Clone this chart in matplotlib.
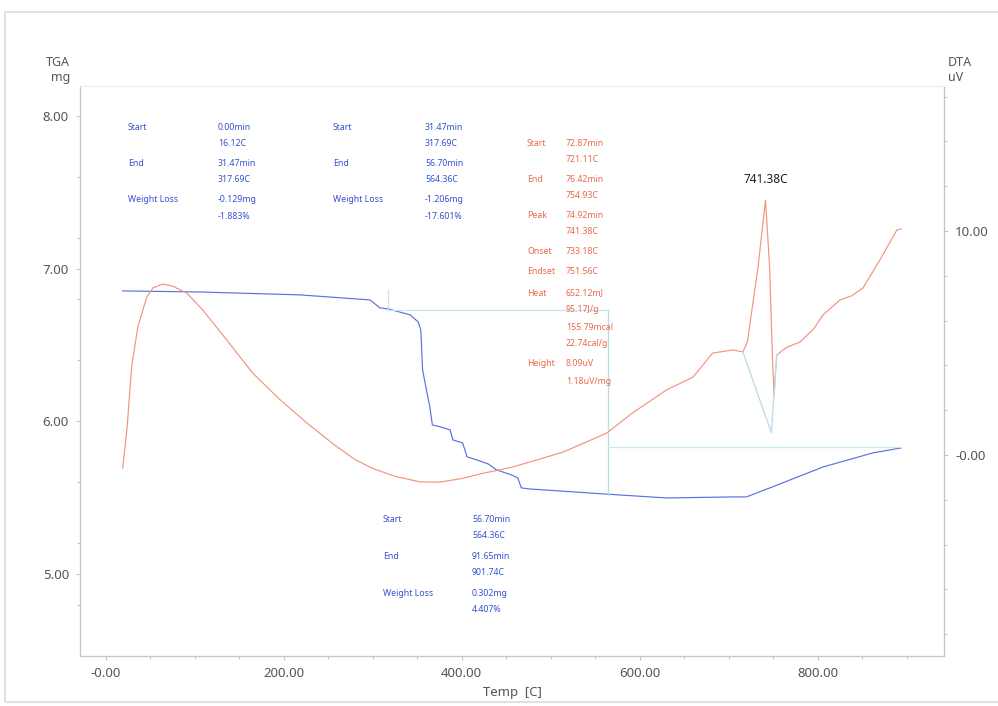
import numpy as np
import matplotlib
matplotlib.use('Agg')
import matplotlib.pyplot as plt
from matplotlib.patches import Rectangle
from matplotlib.ticker import MultipleLocator, FuncFormatter

plt.rcParams['font.family'] = ['Noto Sans', 'DejaVu Sans']

# TGA curve (temp C, mg)
tga_t = [19, 106, 218, 297, 308, 318, 342, 351, 354, 356, 361, 364, 367, 375, 387, 390,
         401, 406, 417, 430, 439, 456, 463, 467, 476, 520, 558, 630, 707, 720, 749, 806, 862, 894]
tga_w = [6.854, 6.847, 6.828, 6.795, 6.743, 6.735, 6.697, 6.651, 6.599, 6.337, 6.186, 6.10, 5.976,
         5.965, 5.944, 5.878, 5.859, 5.767, 5.747, 5.72, 5.682, 5.649, 5.629, 5.564, 5.557, 5.54,
         5.525, 5.498, 5.505, 5.505, 5.570, 5.701, 5.793, 5.826]

# DTA curve (temp C, uV)
dta_t = [19, 24, 29, 36, 46, 53, 64, 75, 91, 109, 136, 165, 196, 226, 257, 280, 300, 325, 353,
         375, 400, 420, 457, 514, 563, 592, 630, 660, 682, 705, 716, 721, 733, 741.4, 746, 749,
         751, 754, 765, 780, 795, 806, 825, 838, 851, 870, 889, 894]
dta_v = [-0.58, 1.25, 3.93, 5.71, 7.05, 7.46, 7.63, 7.54, 7.23, 6.47, 5.13, 3.66, 2.46, 1.43, 0.45,
         -0.2, -0.6, -0.95, -1.2, -1.21, -1.05, -0.85, -0.54, 0.13, 0.98, 1.88, 2.90, 3.48, 4.55,
         4.69, 4.60, 5.04, 8.39, 11.38, 8.39, 4.6, 2.68, 4.46, 4.80, 5.04, 5.60, 6.25, 6.92, 7.10,
         7.46, 8.71, 10.04, 10.09]

# step markers
tga_steps = [317.69, 564.36, 894]
tga_levels = [6.86, 6.73, 5.52, 5.83]

fig = plt.figure(figsize=(9.98, 7.06), dpi=100)
fig.patches.append(Rectangle((5 / 998, 4 / 706), 1.1, 690 / 706, transform=fig.transFigure,
                             fill=False, edgecolor='#dcdcdc', lw=1.2))
ax = fig.add_axes([80 / 998, 50 / 706, 864 / 998, 570 / 706])
ax2 = ax.twinx()

ax.plot(tga_t, tga_w, color='#5d70e0', lw=0.85)
ax2.plot(dta_t, dta_v, color='#f29380', lw=0.85)

mk = '#c8e6ee'
ax.plot([tga_steps[0], tga_steps[0]], [tga_levels[0], tga_levels[1]], color=mk, lw=0.9)
ax.plot([tga_steps[0], tga_steps[1]], [tga_levels[1], tga_levels[1]], color=mk, lw=0.9)
ax.plot([tga_steps[1], tga_steps[1]], [tga_levels[1], tga_levels[2]], color='#b8dce6', lw=0.9)
ax.plot([tga_steps[1], tga_steps[2]], [tga_levels[3], tga_levels[3]], color=mk, lw=0.9)
ax2.plot([716, 748, 754], [4.60, 1.0, 4.46], color='#b8dce6', lw=0.9)

ax.set_xlim(-29, 942)
ax.set_ylim(4.463, 8.196)
ax2.set_ylim(-8.97, 16.47)

ax.xaxis.set_major_locator(MultipleLocator(200))
ax.xaxis.set_minor_locator(MultipleLocator(50))
ax.yaxis.set_major_locator(MultipleLocator(1))
ax.yaxis.set_minor_locator(MultipleLocator(0.4))
ax2.yaxis.set_major_locator(MultipleLocator(10))
ax2.yaxis.set_minor_locator(MultipleLocator(2))

fmt = FuncFormatter(lambda v, p: '-0.00' if abs(v) < 1e-9 else '%.2f' % v)
ax.xaxis.set_major_formatter(fmt)
ax.yaxis.set_major_formatter(FuncFormatter(lambda v, p: '%.2f' % v))
ax2.yaxis.set_major_formatter(fmt)

for a in (ax, ax2):
    for s in a.spines.values():
        s.set_color('#c4c4c4')
    a.spines['top'].set_color('#eeeeee')
    a.tick_params(which='both', colors='#c4c4c4', labelcolor='#555555', labelsize=9.5,
                  length=3, width=0.8, pad=5)
    a.tick_params(which='minor', length=2)

ax.set_xlabel('Temp  [C]', fontsize=9.5, color='#555555', labelpad=4)
fig.text(70 / 998, 1 - 70 / 706, 'TGA\nmg', ha='right', va='center', fontsize=9,
         color='#555555', linespacing=1.2)
fig.text(948 / 998, 1 - 70 / 706, 'DTA\nuV', ha='left', va='center', fontsize=9,
         color='#555555', linespacing=1.2)


def put(x, y, s, c):
    fig.text(x / 998, 1 - y / 706, s, ha='left', va='center', fontsize=6.3, color=c)


blue = '#3550d0'
red = '#e86a4c'

# TGA step tables
blk1 = [('Start', ['0.00min', '16.12C']), ('End', ['31.47min', '317.69C']),
        ('Weight Loss', ['-0.129mg', '-1.883%'])]
blk2 = [('Start', ['31.47min', '317.69C']), ('End', ['56.70min', '564.36C']),
        ('Weight Loss', ['-1.206mg', '-17.601%'])]
blk3 = [('Start', ['56.70min', '564.36C']), ('End', ['91.65min', '901.74C']),
        ('Weight Loss', ['0.302mg', '4.407%'])]
for (bx, vx, by), blk in [((128, 218, 127), blk1), ((333, 425, 127), blk2), ((383, 472, 520), blk3)]:
    for i, (lab, vals) in enumerate(blk):
        y = by + i * 36.5
        put(bx, y, lab, blue)
        for j, v in enumerate(vals):
            put(vx, y + j * 16, v, blue)

# DTA peak table
dta_lab = ['Start', 'End', 'Peak', 'Onset', 'Endset', 'Heat', 'Height']
dta_vals = [['72.87min', '721.11C'], ['76.42min', '754.93C'], ['74.92min', '741.38C'],
            ['733.18C'], ['751.56C'], ['652.12mJ', '95.17J/g', '155.79mcal', '22.74cal/g'],
            ['8.09uV', '1.18uV/mg']]
dta_rows = [143, 179, 215, 252, 272, 293, 364]
for lab, vals, y in zip(dta_lab, dta_vals, dta_rows):
    put(527, y, lab, red)
    for j, v in enumerate(vals):
        put(566, y + j * 17, v, red)

ax2.annotate('741.38C', (741.4, 11.38), xytext=(0, 10), textcoords='offset points',
             ha='center', va='bottom', fontsize=8.5, color='#222222')

fig.savefig('out.png', dpi=100)
